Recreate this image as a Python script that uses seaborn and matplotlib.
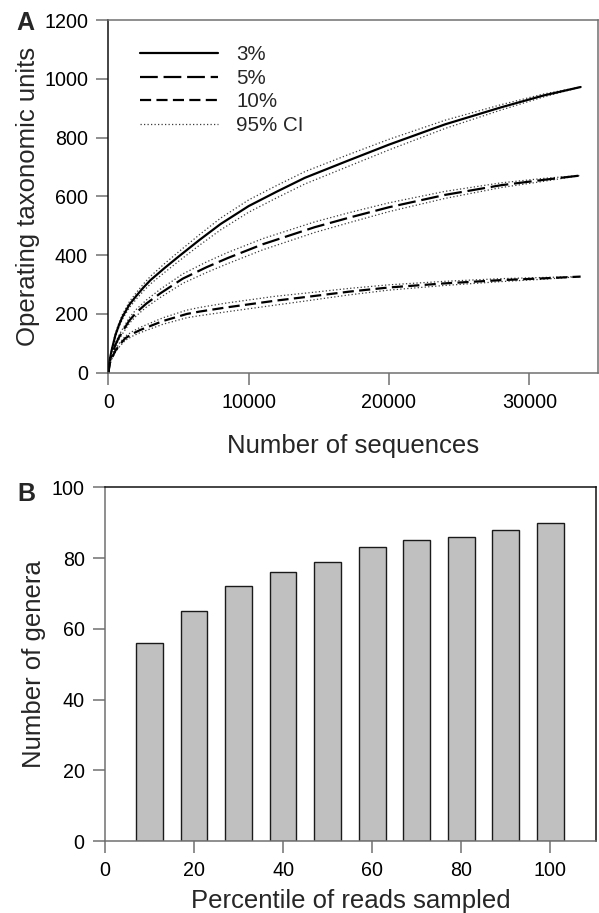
import numpy as np
import pandas as pd
import matplotlib
matplotlib.use("Agg")
import matplotlib.pyplot as plt
from matplotlib.lines import Line2D
import seaborn as sns

# ---------------- data ----------------
# Panel A: rarefaction curves (x = number of sequences)
x_3 = [0, 100, 250, 500, 750, 1000, 1500, 2000, 2500, 3000, 4000, 5000,
       6500, 8000, 10000, 12000, 14000, 17000, 20000, 24000, 28000, 31000,
       33660]
otu_3 = [0, 45, 80, 128, 162, 190, 232, 262, 290, 315, 356, 395,
         452, 506, 567, 616, 663, 720, 776, 845, 903, 943,
         972]
ci_3 = [0, 2, 4, 6, 7, 8, 10, 11, 12, 13, 15, 16,
        18, 20, 21, 21, 21, 20, 18, 14, 9, 5,
        0]

x_5 = [0, 100, 250, 500, 750, 1000, 1500, 2000, 2700, 3700, 5300, 7000,
       8500, 11000, 14700, 17200, 20000, 24000, 28000, 31000, 33660]
otu_5 = [0, 38, 60, 95, 120, 140, 178, 205, 235, 270, 320, 359,
         390, 437, 495, 528, 563, 605, 638, 656, 671]
ci_5 = [0, 2, 4, 6, 7, 8, 10, 11, 12, 14, 16, 18,
        19, 19, 18, 17, 15, 12, 8, 5, 0]

x_10 = [0, 100, 250, 500, 800, 1200, 1700, 2250, 3900, 5600, 6500, 8400,
        11900, 14500, 17200, 20000, 24000, 28000, 31000, 33660]
otu_10 = [0, 32, 50, 75, 95, 117, 132, 145, 176, 200, 208, 222,
          245, 260, 276, 290, 304, 315, 321, 327]
ci_10 = [0, 2, 3, 5, 6, 7, 8, 9, 11, 13, 14, 15,
         15, 13, 11, 9, 7, 5, 3, 0]

series_labels = ["3%", "5%", "10%"]
ci_label = "95% CI"

# Panel B: genera vs percentile of reads
percentiles = [10, 20, 30, 40, 50, 60, 70, 80, 90, 100]
genera = [56, 65, 72, 76, 79, 83, 85, 86, 88, 90]

# ---------------- style ----------------
sns.set_theme(style="ticks")
plt.rcParams["font.family"] = ["Liberation Sans", "DejaVu Sans"]

W, H = 599, 913
fig = plt.figure(figsize=(W / 100, H / 100), dpi=100)

def frac_axes(l, t, r, b):
    return fig.add_axes([l / W, 1 - b / H, (r - l) / W, (b - t) / H])

axA = frac_axes(108.4, 20.0, 598.3, 372.7)
axB = frac_axes(105.0, 487.3, 595.7, 841.0)

tick_fs = 14.2
label_fs = 18.5
legend_fs = 14.8
spine_gray = "#707070"

def style_axes(ax, dark_spines):
    for name, sp in ax.spines.items():
        sp.set_visible(True)
        sp.set_linewidth(1.1)
        sp.set_color("#111111" if name in dark_spines else spine_gray)
    ax.tick_params(axis="both", which="major", direction="out", length=8.6,
                   width=1.1, color=spine_gray, labelsize=tick_fs,
                   labelcolor="black", pad=6.0, bottom=True, left=True,
                   top=False, right=False)
    ax.grid(False)

# ---------------- Panel A ----------------
ls_5 = (0, (8, 2.6))
ls_10 = (0, (5, 2.4))
line_specs = [
    (x_3, otu_3, ci_3, "-"),
    (x_5, otu_5, ci_5, ls_5),
    (x_10, otu_10, ci_10, ls_10),
]
ci_style = dict(color="#3a3a3a", lw=0.9, linestyle=(0, (1, 1.8)))

for (xs, ys, cis, ls), lab in zip(line_specs, series_labels):
    df = pd.DataFrame({"x": xs, "y": ys, "ci": cis})
    df["lo"] = df["y"] - df["ci"]
    df["hi"] = df["y"] + df["ci"]
    sns.lineplot(data=df, x="x", y="lo", ax=axA, **ci_style)
    sns.lineplot(data=df, x="x", y="hi", ax=axA, **ci_style)
    sns.lineplot(data=df, x="x", y="y", ax=axA, color="black", lw=1.6,
                 linestyle=ls)

axA.set_xlim(0, 34920)
axA.set_ylim(0, 1200)
axA.set_xticks([0, 10000, 20000, 30000])
axA.set_yticks(range(0, 1201, 200))
axA.set_xlabel("Number of sequences", fontsize=label_fs)
axA.set_ylabel("Operating taxonomic units", fontsize=label_fs)
style_axes(axA, dark_spines={"left"})
axA.xaxis.set_label_coords(0.5, -0.175)
axA.yaxis.set_label_coords(-0.14, 0.5)

handles = [
    Line2D([], [], color="black", lw=1.6, linestyle="-"),
    Line2D([], [], color="black", lw=1.6, linestyle=ls_5),
    Line2D([], [], color="black", lw=1.6, linestyle=ls_10),
    Line2D([], [], **ci_style),
]
axA.legend(handles, series_labels + [ci_label], loc="upper left",
           bbox_to_anchor=(0.064, 0.928), frameon=False, fontsize=legend_fs,
           handlelength=3.8, handletextpad=0.9, labelspacing=0.22,
           borderpad=0, borderaxespad=0)

# ---------------- Panel B ----------------
dfB = pd.DataFrame({"pct": percentiles, "genera": genera})
sns.barplot(data=dfB, x="pct", y="genera", ax=axB, native_scale=True,
            width=0.6, color="#c0c0c0", edgecolor="#1a1a1a", linewidth=1.0,
            saturation=1)
axB.set_xlim(0, 110.2)
axB.set_ylim(0, 100)
axB.set_xticks(range(0, 101, 20))
axB.set_yticks(range(0, 101, 20))
axB.set_xlabel("Percentile of reads sampled", fontsize=label_fs)
axB.set_ylabel("Number of genera", fontsize=label_fs)
style_axes(axB, dark_spines={"top", "right"})
axB.xaxis.set_label_coords(0.5, -0.135)
axB.yaxis.set_label_coords(-0.12, 0.5)

# panel letters
fig.text(16 / W, 1 - 11 / H, "A", fontsize=18, fontweight="bold",
         ha="left", va="top")
fig.text(17 / W, 1 - 482 / H, "B", fontsize=18, fontweight="bold",
         ha="left", va="top")

fig.savefig("out.png", dpi=100, facecolor="white")
